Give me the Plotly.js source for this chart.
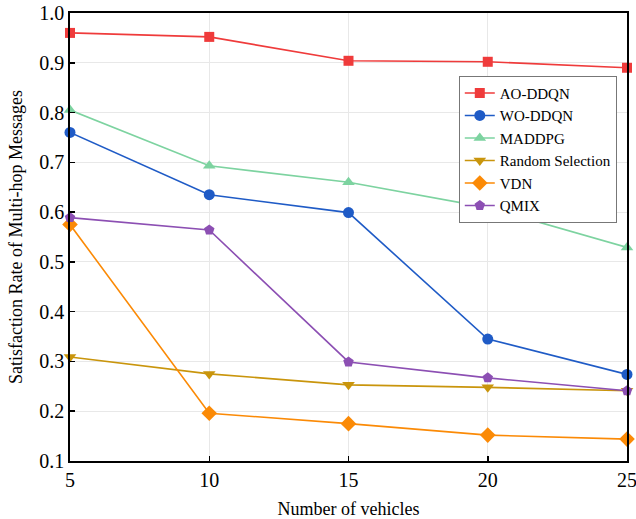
<!DOCTYPE html>
<html><head><meta charset="utf-8">
<script src="https://cdn.plot.ly/plotly-3.0.1.min.js"></script>
<style>body{margin:0;padding:0;background:#fff}#chart{width:636px;height:519px}</style>
</head><body><div id="chart"></div>
<script>
const vehicles = [5, 10, 15, 20, 25];
const aoDdqn = [0.960, 0.952, 0.904, 0.902, 0.890];
const woDdqn = [0.760, 0.635, 0.599, 0.345, 0.274];
const maddpg = [0.805, 0.693, 0.660, 0.609, 0.529];
const randomSel = [0.309, 0.275, 0.253, 0.248, 0.241];
const vdn = [0.575, 0.196, 0.175, 0.152, 0.144];
const qmix = [0.589, 0.564, 0.299, 0.267, 0.241];

const names = ['AO-DDQN','WO-DDQN','MADDPG','Random Selection','VDN','QMIX'];
const series = [aoDdqn, woDdqn, maddpg, randomSel, vdn, qmix];
const colors = ['#ef3b3b','#1f5bc6','#7dd3a0','#c9950c','#fb8a06','#8c4fb3'];
const symbols = ['square','circle','triangle-up','triangle-down','diamond','pentagon'];
const sizes = [10,11,11,11,12,11];

const traces = series.map((ys,i)=>({
  x: vehicles, y: ys, name: names[i], type:'scatter', mode:'lines+markers',
  line:{color:colors[i], width:1.6},
  marker:{color:colors[i], symbol:symbols[i], size:sizes[i]},
  cliponaxis:false
}));

const serif = 'Liberation Serif, Times New Roman, serif';
const axisCommon = {
  showline:true, linecolor:'#000', linewidth:1.8, mirror:true,
  ticks:'inside', ticklen:5, tickwidth:1.5, tickcolor:'#000',
  showgrid:true, gridcolor:'#e8e8e8', gridwidth:1, zeroline:false,
  ticklabeloverflow:'allow',
  tickfont:{family:serif, size:20, color:'#000'}
};

const layout = {
  width:636, height:519,
  margin:{l:70, r:9, t:13, b:58},
  paper_bgcolor:'#fff', plot_bgcolor:'#fff',
  font:{family:serif, color:'#000'},
  xaxis: Object.assign({}, axisCommon, {
    range:[5,25], tickvals:vehicles, ticktext:vehicles.map(String),
    title:{text:'Number of vehicles', font:{size:18}, standoff:18}
  }),
  yaxis: Object.assign({}, axisCommon, {
    range:[0.1,1.0], dtick:0.1, tick0:0.1, tickformat:'.1f',
    title:{text:'Satisfaction Rate of Multi-hop Messages', font:{size:18}, standoff:12}
  }),
  legend:{
    x:0.698, y:0.86, xanchor:'left', yanchor:'top',
    bgcolor:'#fff', bordercolor:'#777', borderwidth:1,
    font:{family:serif, size:15, color:'#000'},
    tracegroupgap:0, itemwidth:30
  },
  showlegend:true
};

Plotly.newPlot('chart', traces, layout, {displayModeBar:false, staticPlot:true});
</script>
</body></html>
